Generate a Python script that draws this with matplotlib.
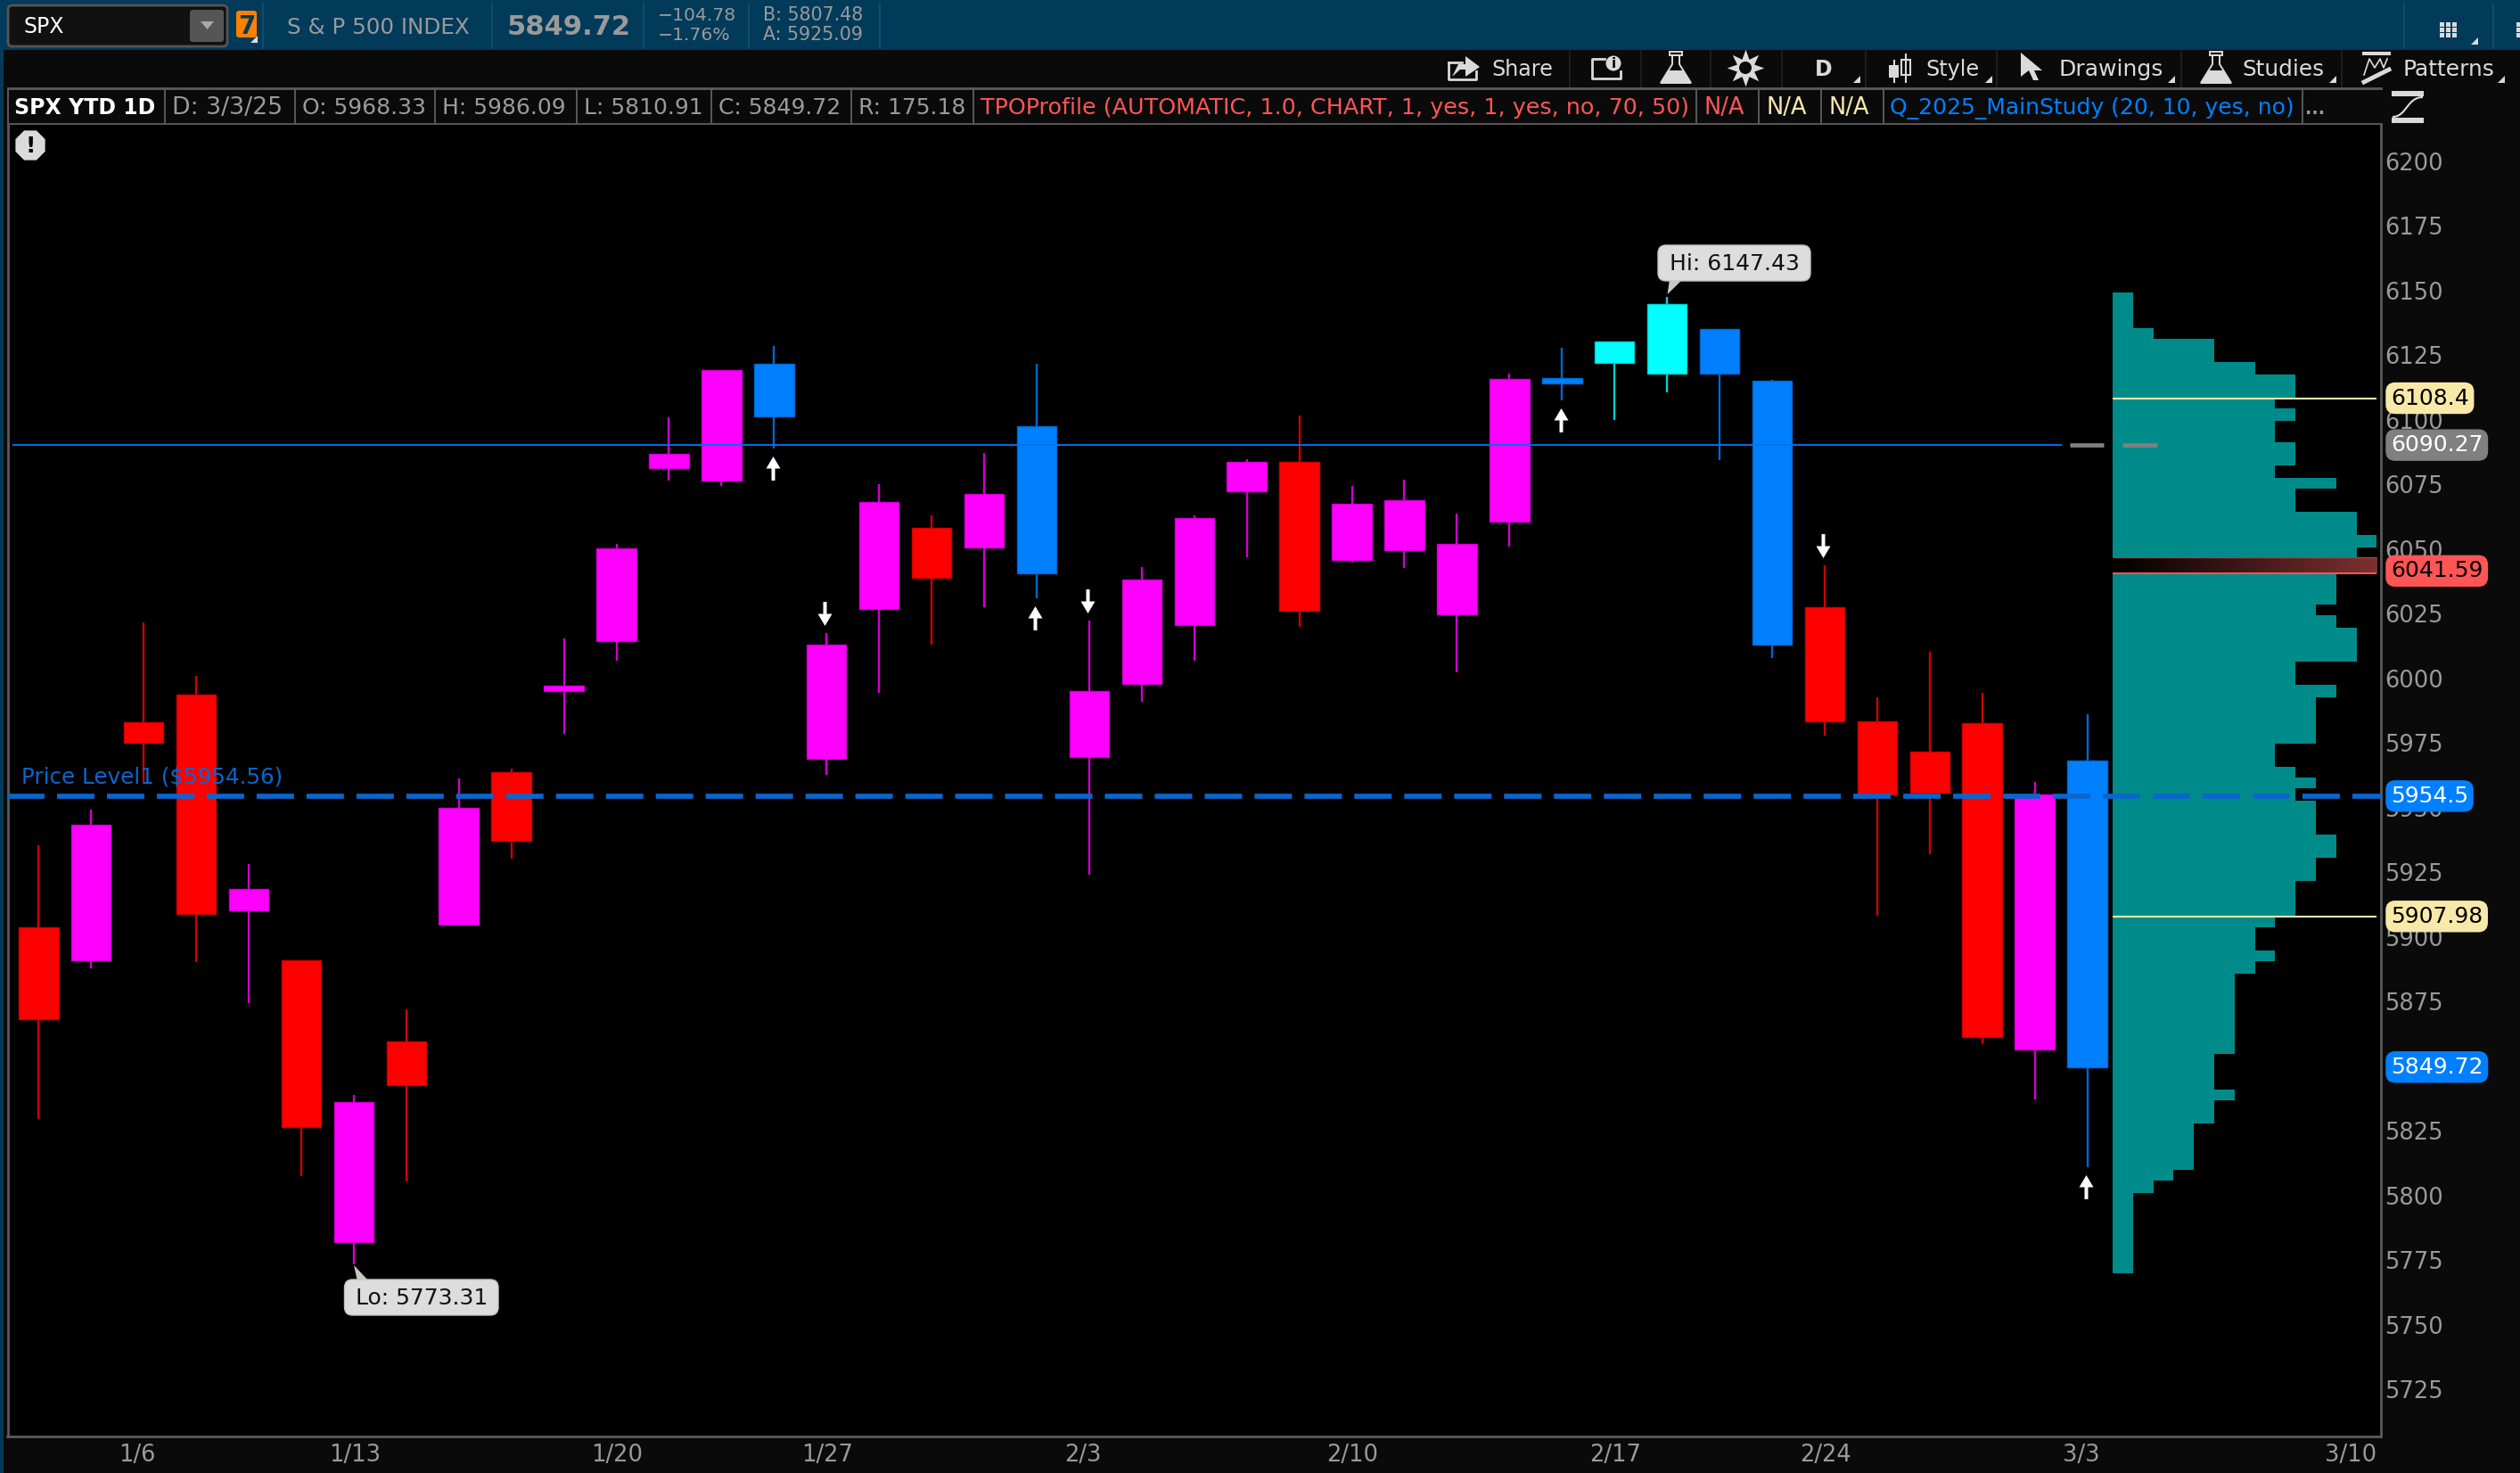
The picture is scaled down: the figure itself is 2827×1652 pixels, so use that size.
import matplotlib
matplotlib.use("Agg")
import matplotlib.pyplot as plt
import numpy as np
from matplotlib.patches import Rectangle, FancyBboxPatch, Polygon, RegularPolygon, PathPatch
from matplotlib.path import Path
from matplotlib.transforms import ScaledTranslation, blended_transform_factory

W, H = 2827, 1652

# daily candles, 1/2 to 3/3
highs = [5935.5, 5949.2, 6021.7, 6001.1, 5928.1, 5890.9, 5839.1, 5872.2, 5961.2, 5965.1,
         6015.6, 6052.2, 6101.0, 6119.2, 6128.7, 6017.7, 6075.0, 6063.1, 6087.3, 6121.8,
         6022.5, 6043.2, 6063.1, 6084.7, 6101.7, 6074.3, 6076.9, 6063.9, 6117.8, 6128.0,
         6130.2, 6147.43, 6135.0, 6115.6, 6043.9, 5992.8, 6010.2, 5994.3, 5959.9, 5986.09]
tops = [5903.9, 5943.3, 5983.2, 5993.6, 5918.5, 5890.9, 5836.3, 5859.7, 5950.1, 5963.7,
        5997.1, 6050.2, 6086.7, 6119.2, 6121.8, 6012.9, 6068.1, 6058.4, 6071.4, 6097.6,
        5995.0, 6038.4, 6061.9, 6083.8, 6083.8, 6067.4, 6068.8, 6052.2, 6115.7, 6116.3,
        6130.2, 6144.7, 6135.0, 6115.0, 6027.5, 5983.3, 5971.6, 5982.6, 5955.2, 5968.33]
bottoms = [5868.1, 5891.0, 5975.1, 5909.0, 5910.4, 5826.6, 5782.1, 5842.6, 5904.8, 5937.1,
           5995.0, 6014.3, 6081.3, 6076.5, 6101.3, 5968.9, 6026.7, 6039.1, 6050.8, 6040.5,
           5969.6, 5997.9, 6020.7, 6072.3, 6026.1, 6046.0, 6049.5, 6024.7, 6060.6, 6114.2,
           6121.9, 6117.8, 6117.8, 6013.0, 5983.4, 5955.2, 5955.7, 5861.2, 5856.4, 5849.72]
lows = [5829.6, 5888.0, 5960.0, 5890.3, 5874.3, 5807.6, 5773.31, 5805.5, 5904.8, 5930.2,
        5978.6, 6006.7, 6076.4, 6074.3, 6088.9, 5962.7, 5994.3, 6012.9, 6027.6, 6030.9,
        5924.1, 5991.0, 6006.7, 6046.7, 6019.9, 6044.7, 6042.6, 6002.5, 6050.9, 6107.5,
        6099.8, 6110.8, 6084.6, 6008.0, 5977.8, 5908.1, 5932.1, 5858.6, 5837.2, 5810.91]
kinds = list("rmrrmrmrmr" "mmmmbmmrmb" "mmmmrmmmmb" "ccbbrrrrmb")

up_arrows = [14, 19, 29, 39]
down_arrows = [15, 20, 34]

x_ticks = [2, 6, 11, 15, 20, 25, 30, 34, 39, 44]
x_labels = ["1/6", "1/13", "1/20", "1/27", "2/3", "2/10", "2/17", "2/24", "3/3", "3/10"]
y_ticks = list(range(5725, 6201, 25))

# TPO profile: bin edges from the top down and the count in each bin
profile_edges = [6149.2, 6135.5, 6131.3, 6122.3, 6117.6, 6108.4, 6104.4, 6099.6, 6091.3, 6082.3,
                 6077.6, 6073.4, 6064.4, 6055.4, 6050.7, 6041.0, 6028.6, 6024.4, 6019.6, 6006.5,
                 5997.5, 5992.7, 5974.8, 5965.8, 5961.7, 5957.5, 5952.6, 5939.7, 5930.7, 5921.7,
                 5908.1, 5903.8, 5894.8, 5890.6, 5885.9, 5854.8, 5841.0, 5836.8, 5827.8, 5810.0,
                 5805.8, 5801.0, 5770.0]
profile_counts = [1, 2, 5, 7, 9, 8, 9, 8, 9, 8,
                  11, 9, 12, 13, 12, 11, 10, 11, 12, 9,
                  11, 10, 8, 9, 10, 9, 10, 11, 10, 9,
                  8, 7, 8, 7, 6, 5, 6, 5, 4, 3,
                  2, 1]

level_price = 5954.5
line_blue = 6090.27
value_hi = 6108.4
value_lo = 5907.98
poc_top, poc_bottom = 6046.7, 6040.5

badges = [("6108.4", 6108.4, "#F8E9A9", "black"),
          ("6090.27", 6090.27, "#808080", "white"),
          ("6041.59", 6041.59, "#FF5555", "black"),
          ("5954.5", 5954.5, "#0080FF", "white"),
          ("5907.98", 5907.98, "#F8E9A9", "black"),
          ("5849.72", 5849.72, "#0080FF", "white")]

face = {"r": "#FF0000", "m": "#FF00FF", "b": "#0080FF", "c": "#00FFFF"}
edge = {"r": "#D00000", "m": "#D000D0", "b": "#0068D0", "c": "#00D0D0"}

CHROME = "#0A0A0A"
NAVY = "#023A5A"
GRID = "#5A5A5A"
GREY = "#9A9A9A"
LIGHT = "#DADADA"
TEAL = "#008B8B"
DASH = "#0A66CC"
RED_TXT = "#FF5555"
YEL_TXT = "#F8E9A9"
BLUE_TXT = "#0080FF"

fig = plt.figure(figsize=(W / 100, H / 100), dpi=100, facecolor=CHROME)
plt.rcParams["font.family"] = "DejaVu Sans"

# whole-figure layer in pixels for the platform chrome
ui = fig.add_axes([0, 0, 1, 1], zorder=0)
ui.set_xlim(0, W)
ui.set_ylim(H, 0)
ui.axis("off")


def label(x, y, s, size=18, color=GREY, **kw):
    ui.text(x, y, s, fontsize=size, color=color, va="baseline", ha=kw.pop("ha", "left"), **kw)


def small_corner(x, y):
    ui.add_patch(Polygon([(x, y), (x + 8, y), (x + 8, y - 8)], fc=LIGHT, ec="none"))


def flask(cx):
    ui.add_patch(Rectangle((cx - 7, 58), 14, 4, fc="none", ec=LIGHT, lw=1.4))
    ui.add_patch(Polygon([(cx - 4, 62), (cx + 4, 62), (cx + 4, 72), (cx + 17, 93), (cx - 17, 93), (cx - 4, 72)],
                         fc="none", ec=LIGHT, lw=1.4))
    ui.add_patch(Polygon([(cx - 9, 79), (cx + 9, 79), (cx + 17, 93), (cx - 17, 93)], fc=LIGHT, ec="none"))


# top bar
ui.add_patch(Rectangle((0, 0), W, 56, fc=NAVY, ec="none"))
ui.add_patch(Rectangle((0, 56), 4, H - 56, fc=NAVY, ec="none"))
ui.add_patch(FancyBboxPatch((11, 8), 242, 42, boxstyle="round,pad=2,rounding_size=5", fc="#111111", ec="#555555", lw=2))
ui.add_patch(FancyBboxPatch((213, 11), 38, 36, boxstyle="round,pad=0,rounding_size=3", fc="#555555", ec="none"))
ui.add_patch(Polygon([(225, 24), (240, 24), (232.5, 33)], fc="#A8A8A8", ec="none"))
label(26, 37, "SPX", size=17, color="white")
ui.add_patch(FancyBboxPatch((265, 12), 23, 30, boxstyle="round,pad=0,rounding_size=3", fc="#FF8000", ec="none"))
label(276.5, 38, "7", size=20, color=NAVY, ha="center", fontweight="bold")
small_corner(281, 48)
for x in [295, 552, 722, 840, 987, 2697, 2797]:
    ui.plot([x, x], [4, 54], color="#15506F", lw=1.2)
label(322, 38, "S & P 500 INDEX", size=17.7, color=GREY)
label(569, 39, "5849.72", size=22, color=GREY, fontweight="bold")
label(738, 23, "\u2212104.78", size=14.7, color=GREY)
label(738, 45, "\u22121.76%", size=14.7, color=GREY)
label(856, 23, "B: 5807.48", size=14.8, color=GREY)
label(856, 45, "A: 5925.09", size=14.8, color=GREY)
for gx in [2737, 2744, 2751]:
    for gy in [25, 31, 37]:
        ui.add_patch(Rectangle((gx, gy), 5, 5, fc=LIGHT, ec="none"))
small_corner(2772, 50)
for gy in [25, 31, 37]:
    ui.add_patch(Rectangle((2823, gy), 4, 5, fc=LIGHT, ec="none"))

# toolbar
for x in [1761, 1841, 1919, 1999, 2093, 2240, 2447, 2627]:
    ui.plot([x, x], [56, 98], color="#222222", lw=1.2)
ui.plot([1625, 1625, 1656, 1656], [70, 89, 89, 80], color=LIGHT, lw=2)
ui.plot([1625, 1640], [70, 70], color=LIGHT, lw=2)
ui.add_patch(Polygon([(1629, 86), (1636, 72), (1644, 72), (1644, 63), (1660, 75), (1644, 86), (1644, 78), (1638, 78)], fc=LIGHT, ec="none"))
label(1673, 85, "Share", size=17.2, color=LIGHT)
ui.plot([1800, 1786, 1786, 1818, 1818], [66, 66, 88, 88, 80], color=LIGHT, lw=2)
ui.add_patch(plt.Circle((1810, 71), 8.5, fc=LIGHT, ec="none"))
ui.text(1810, 71.5, "i", fontsize=11, color="black", ha="center", va="center", fontweight="bold")
flask(1880)
ui.scatter([1958], [76], marker=(8, 1, 0), s=900, c=LIGHT, linewidths=0)
ui.add_patch(plt.Circle((1958, 76), 7, fc=CHROME, ec="none"))
label(2046, 85, "D", size=17, color=LIGHT, ha="center", fontweight="bold")
small_corner(2079, 93)
ui.plot([2125, 2125], [68, 92], color=LIGHT, lw=1.5)
ui.add_patch(Rectangle((2119, 73), 11, 14, fc=LIGHT, ec="none"))
ui.plot([2138, 2138], [61, 92], color=LIGHT, lw=1.5)
ui.add_patch(Rectangle((2133, 67), 10, 17, fc=CHROME, ec=LIGHT, lw=1.5))
label(2160, 85, "Style", size=17.2, color=LIGHT)
small_corner(2227, 93)
ui.add_patch(Polygon([(2267, 59), (2291, 79), (2282, 79), (2287, 90), (2281, 90), (2276, 79), (2267, 86)], fc=LIGHT, ec="none"))
label(2309, 85, "Drawings", size=18, color=LIGHT)
small_corner(2432, 93)
flask(2486)
label(2515, 85, "Studies", size=17.8, color=LIGHT)
small_corner(2613, 93)
ui.add_patch(Rectangle((2650, 58), 32, 4, fc=LIGHT, ec="none"))
ui.plot([2652, 2658, 2664, 2670, 2674, 2678], [84, 66, 76, 66, 76, 66], color=LIGHT, lw=1.2)
ui.plot([2652, 2680], [92, 78], color=LIGHT, lw=3.5)
label(2695, 85, "Patterns", size=17.9, color=LIGHT)
small_corner(2802, 93)

# study legend row
ui.plot([9, 2671], [99, 99], color=GRID, lw=2)
ui.plot([9, 2671], [139, 139], color=GRID, lw=2)
for x in [9, 185, 331, 488, 647, 798, 955, 1092, 1903, 1973, 2043, 2113, 2583]:
    ui.plot([x, x], [99, 139], color=GRID, lw=1.4)
label(16, 128, "SPX YTD 1D", size=17, color="white", fontweight="bold")
label(193, 128, "D: 3/3/25", size=19.3)
label(339, 128, "O: 5968.33", size=18)
label(496, 128, "H: 5986.09")
label(655, 128, "L: 5810.91")
label(806, 128, "C: 5849.72", size=18)
label(963, 128, "R: 175.18", size=18)
label(1100, 128, "TPOProfile (AUTOMATIC, 1.0, CHART, 1, yes, 1, yes, no, 70, 50)", size=18.25, color=RED_TXT)
label(1911, 128, "N/A", size=18.5, color=RED_TXT)
label(1981, 128, "N/A", size=18.5, color=YEL_TXT)
label(2051, 128, "N/A", size=18.5, color=YEL_TXT)
label(2120, 128, "Q_2025_MainStudy (20, 10, yes, no)", size=18, color=BLUE_TXT)
label(2586, 128, "...", size=14, color=GREY, fontweight="bold")

# side icon above the price scale
ui.add_patch(Rectangle((2683, 102), 36, 6, fc=LIGHT, ec="none"))
ui.add_patch(Rectangle((2683, 132), 36, 6, fc=LIGHT, ec="none"))
ui.add_patch(PathPatch(Path([(2684, 131), (2700, 131), (2700, 109), (2718, 109)],
                            [Path.MOVETO, Path.CURVE4, Path.CURVE4, Path.CURVE4]), fc="none", ec=LIGHT, lw=1.5))

# price pane, limits chosen so candle 0 centre and the ticks land where they do in the reference
left, right, top, bottom = 8.5, 2671, 139.5, 1610.5
ax = fig.add_axes([left / W, 1 - bottom / H, (right - left) / W, (bottom - top) / H], zorder=1, facecolor="black")
x_unit = 58.93
x0_px = 43.3
y_unit = 2.9
y_ref = 1558.4

# warning badge sits on the pane, so it goes through the pixel layer's transform
ax.add_patch(RegularPolygon((34, 163), 8, radius=18, orientation=np.pi / 8, fc=LIGHT, ec="none",
                            transform=ui.transData, zorder=6))
ax.text(34, 164, "!", transform=ui.transData, fontsize=18, color="black", ha="center", va="center",
        fontweight="bold", zorder=7)

xs = np.arange(len(highs))
colors_face = [face[k] for k in kinds]
colors_edge = [edge[k] for k in kinds]
ax.vlines(xs, lows, highs, colors=colors_edge, lw=1.7, zorder=3)
ax.bar(xs, np.array(tops) - np.array(bottoms), bottom=bottoms, width=0.755,
       color=colors_face, edgecolor=colors_edge, linewidth=1, zorder=3.2)

# arrows
arrow = Path([(0, 13.5), (8, 0), (2, 0), (2, -13.5), (-2, -13.5), (-2, 0), (-8, 0), (0, 13.5)], closed=True)
arrow_down = Path([(0, -13.5), (8, 0), (2, 0), (2, 13.5), (-2, 13.5), (-2, 0), (-8, 0), (0, -13.5)], closed=True)
ax.plot(xs[up_arrows] - 0.03, np.array(lows)[up_arrows] - 7.5, ls="none", marker=arrow, ms=19.4, mfc="white", mew=0, zorder=5)
ax.plot(xs[down_arrows] - 0.03, np.array(highs)[down_arrows] + 7.5, ls="none", marker=arrow_down, ms=19.4, mfc="white", mew=0, zorder=5)

# profile
prof_x = (2370 - x0_px) / x_unit
count_w = 22.8 / x_unit
edges = np.array(profile_edges)
ax.barh(edges[1:], np.array(profile_counts) * count_w, height=edges[:-1] - edges[1:], left=prof_x,
        align="edge", color=TEAL, linewidth=0, zorder=2)
prof_end = (2666 - x0_px) / x_unit

# value area lines and point of control band
ax.hlines([value_hi, value_lo], prof_x, prof_end, color=YEL_TXT, lw=1.5, zorder=4)
grad = np.zeros((2, 256, 3))
grad[:, :, 0] = np.linspace(0.0, 0.49, 256)
grad[:, :, 1] = np.linspace(0.0, 0.19, 256)
grad[:, :, 2] = np.linspace(0.0, 0.19, 256)
ax.imshow(grad, extent=(prof_x, prof_end, poc_bottom, poc_top), aspect="auto", zorder=3.5)
ax.hlines(poc_top, prof_x, prof_end, color="#B04040", lw=1, zorder=4)
ax.hlines(poc_bottom, prof_x, prof_end, color="#FF5555", lw=1.5, zorder=4)

# last price line, with its two grey stubs
ax.hlines(line_blue, (14 - x0_px) / x_unit, (2312.5 - x0_px) / x_unit, color="#0073E6", lw=1.4, zorder=4)
for a, b in [(2322, 2360), (2381, 2420)]:
    ax.hlines(line_blue, (a - x0_px) / x_unit, (b - x0_px) / x_unit, color="#808080", lw=3.4, zorder=4)

# horizontal price level
ax.plot([-0.6, 44.6], [level_price, level_price], color=DASH, lw=4.1, ls=(0, (7.37, 2.46)),
        dash_capstyle="butt", zorder=4.5)
ax.text((24.5 - x0_px) / x_unit, level_price + 7.5, "Price Level1 ($5954.56)", color=DASH,
        fontsize=17.7, va="center", ha="left", zorder=5)


# high and low call-outs, boxes placed in pixels
def callout(txt, x0, y0, x1, y1, pointer):
    ax.add_patch(Polygon(pointer, fc="#C8C8C8", ec="none", transform=ui.transData, zorder=6, clip_on=False))
    ax.add_patch(FancyBboxPatch((x0 + 8, y0 + 8), x1 - x0 - 16, y1 - y0 - 16,
                                boxstyle="round,pad=8,rounding_size=9", fc="#DDDDDD", ec="#C4C4C4", lw=1,
                                transform=ui.transData, zorder=6.1))
    ax.text((x0 + x1) / 2, (y0 + y1) / 2 + 1, txt, transform=ui.transData, fontsize=18, color="#111111",
            ha="center", va="center", zorder=6.2)


callout("Hi: 6147.43", 1860, 275, 2031, 315, [(1870.6, 330), (1873, 313), (1888, 313)])
callout("Lo: 5773.31", 386.5, 1435, 559, 1475, [(397, 1419), (401, 1437), (414, 1437)])

ax.set_xlim((left - x0_px) / x_unit, (right - x0_px) / x_unit)
ax.set_ylim(5725 - (bottom - y_ref) / y_unit, 5725 + (y_ref - top) / y_unit)

ax.yaxis.tick_right()
ax.set_yticks(y_ticks)
ax.set_yticklabels([str(v) for v in y_ticks])
ax.set_xticks(x_ticks)
ax.set_xticklabels(x_labels)
ax.tick_params(axis="y", length=0, pad=3.2, labelsize=18.5, labelcolor=GREY)
ax.tick_params(axis="x", length=0, pad=6, labelsize=18.5, labelcolor=GREY)
shift = ScaledTranslation(-28 / 100, 0, fig.dpi_scale_trans)
for t in ax.get_xticklabels():
    t.set_ha("left")
    t.set_transform(t.get_transform() + shift)
for s in ["left", "right", "bottom"]:
    ax.spines[s].set_color(GRID)
    ax.spines[s].set_linewidth(2)
ax.spines["top"].set_visible(False)

# badges sit over the price scale
badge_tr = blended_transform_factory(fig.transFigure, ax.transData)
for txt, val, fc, tc in badges:
    ax.text(2682 / W, val, txt, transform=badge_tr, fontsize=18, color=tc, ha="left", va="center",
            clip_on=False, zorder=7,
            bbox=dict(boxstyle="round,pad=0.2,rounding_size=0.4", fc=fc, ec=fc, lw=1))

fig.savefig("out.png", dpi=100, facecolor=CHROME)
